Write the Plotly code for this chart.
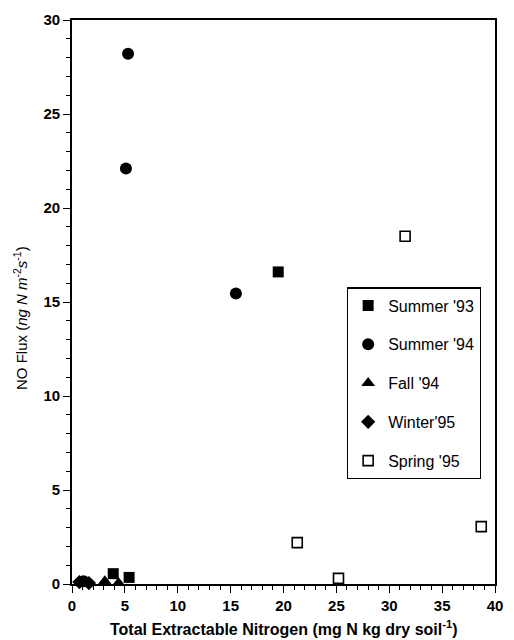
import plotly.graph_objects as go

# ---- data ----
summer93_x = [19.5, 3.9, 5.4]
summer93_y = [16.6, 0.55, 0.35]
summer94_x = [5.3, 5.1, 15.5, 1.1]
summer94_y = [28.2, 22.1, 15.45, 0.15]
fall94_x = [3.1, 4.4, 9.9]
fall94_y = [0.15, 0.05, -0.1]
winter95_x = [0.7, 1.6]
winter95_y = [0.1, 0.05]
spring95_x = [31.5, 21.3, 25.2, 38.7]
spring95_y = [18.5, 2.2, 0.3, 3.05]

x_ticks = [0, 5, 10, 15, 20, 25, 30, 35, 40]
y_ticks = [0, 5, 10, 15, 20, 25, 30]

series = [
    ("Summer '93", summer93_x, summer93_y, "square", 11, "black", 0),
    ("Summer '94", summer94_x, summer94_y, "circle", 12, "black", 0),
    ("Fall '94", fall94_x, fall94_y, "triangle-up", 12, "black", 0),
    ("Winter'95", winter95_x, winter95_y, "diamond", 11, "black", 0),
    ("Spring '95", spring95_x, spring95_y, "square-open", 10, "black", 1.6),
]

FONT = "Liberation Sans, Arial, sans-serif"

fig = go.Figure()
for i, (name, xs, ys, sym, sz, col, lw) in enumerate(series):
    fig.add_trace(go.Scatter(
        x=xs, y=ys, mode="markers", name=name, legendgroup=f"g{i}",
        marker=dict(symbol=sym, size=sz, color=col,
                    line=dict(color="black", width=lw)),
        cliponaxis=False,
    ))

axis_common = dict(
    showgrid=False, zeroline=False, showline=True, linecolor="black",
    linewidth=1.6, mirror=True, ticks="outside", ticklen=7, tickwidth=1.3,
    tickcolor="black", tickmode="array",
    tickfont=dict(family=FONT, size=15, color="black"),
    minor=dict(ticks="outside", ticklen=4, tickwidth=1, tickcolor="black", dtick=1),
)

fig.update_layout(
    width=514, height=640,
    margin=dict(l=72, r=11, t=19, b=56),
    paper_bgcolor="white", plot_bgcolor="white",
    xaxis=dict(range=[0, 40], tickvals=x_ticks,
               ticktext=[f"<b>{v}</b>" for v in x_ticks], **axis_common),
    yaxis=dict(range=[0, 30], tickvals=y_ticks,
               ticktext=[f"<b>{v}</b>" for v in y_ticks], **axis_common),
    legend=dict(
        x=0.65, y=0.526, xanchor="left", yanchor="top",
        bordercolor="black", borderwidth=1.2, bgcolor="white",
        font=dict(family=FONT, size=16, color="black"),
        tracegroupgap=15, itemwidth=30,
        entrywidth=108, entrywidthmode="pixels",
    ),
    showlegend=True,
    annotations=[
        dict(text="<b>Total Extractable Nitrogen (mg N kg dry soil<sup>-1</sup>)</b>",
             xref="paper", yref="paper", x=0.5, y=0, xanchor="center", yanchor="middle",
             yshift=-44, showarrow=False,
             font=dict(family=FONT, size=16, color="black")),
        dict(text="NO Flux (<i>ng N m</i><sup>-2</sup><i>s</i><sup>-1</sup>)",
             xref="paper", yref="paper", x=0, y=0.5, xanchor="center", yanchor="middle",
             xshift=-52, yshift=-16, textangle=-90, showarrow=False,
             font=dict(family=FONT, size=15, color="black")),
    ],
)

fig.write_html("out.html")
